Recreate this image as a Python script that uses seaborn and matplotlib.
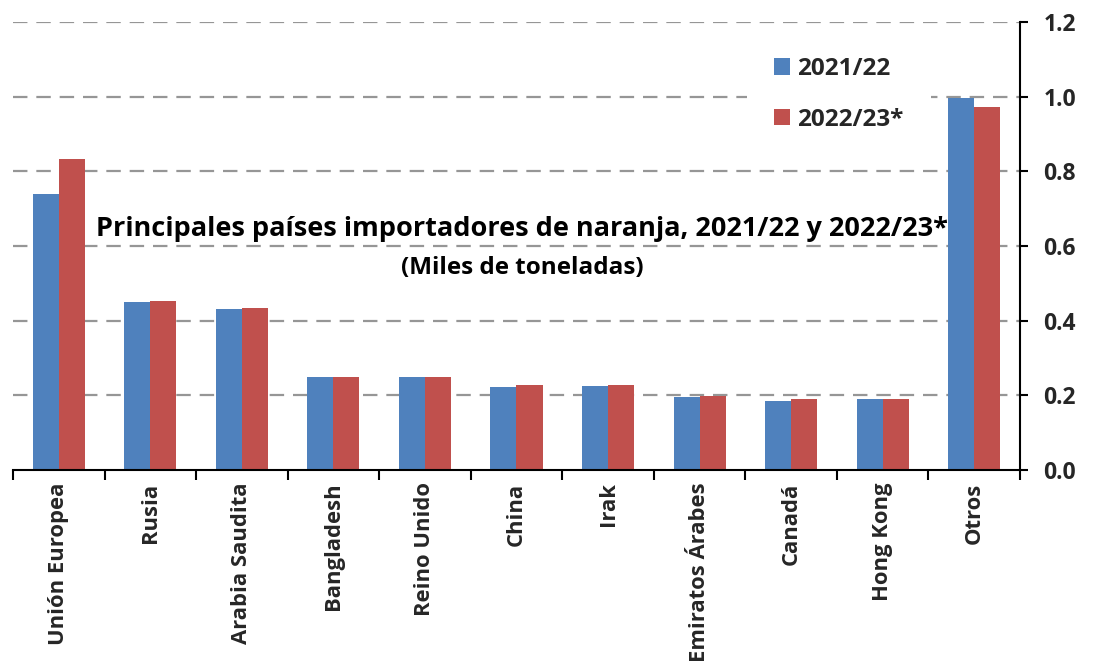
import matplotlib
matplotlib.use("Agg")
import matplotlib.pyplot as plt
import seaborn as sns
import pandas as pd
import numpy as np
from matplotlib.ticker import FixedLocator
from matplotlib.patches import Rectangle

categorias = ["Unión Europea", "Rusia", "Arabia Saudita", "Bangladesh", "Reino Unido",
              "China", "Irak", "Emiratos Árabes", "Canadá", "Hong Kong", "Otros"]
v_2021_22 = [0.739, 0.451, 0.430, 0.248, 0.248, 0.221, 0.224, 0.195, 0.186, 0.190, 0.997]
v_2022_23 = [0.833, 0.453, 0.434, 0.248, 0.248, 0.228, 0.228, 0.199, 0.189, 0.190, 0.972]
series = ["2021/22", "2022/23*"]
colores = ["#4F81BD", "#C0504D"]
yticks = [0.0, 0.2, 0.4, 0.6, 0.8, 1.0, 1.2]

df = pd.DataFrame({
    "pais": categorias * 2,
    "valor": v_2021_22 + v_2022_23,
    "serie": [series[0]] * len(categorias) + [series[1]] * len(categorias),
})

sns.set_theme(style="white")
FONT = ["Open Sans", "DejaVu Sans"]
plt.rcParams["font.family"] = FONT

W, H = 1096, 671
fig = plt.figure(figsize=(W / 100, H / 100), dpi=100)
AX_L, AX_R, AX_T, AX_B = 13, 1020, 22, 470
ax = fig.add_axes([AX_L / W, 1 - AX_B / H, (AX_R - AX_L) / W, (AX_B - AX_T) / H])

def ax_x(px):
    return (px - AX_L) / (AX_R - AX_L)

def ax_y(py):
    return (AX_B - py) / (AX_B - AX_T)

sns.barplot(data=df, x="pais", y="valor", hue="serie", palette=colores,
            order=categorias, hue_order=series, width=0.57, ax=ax,
            saturation=1, edgecolor="none", linewidth=0, legend=True)

ax.set_xlim(-0.5, len(categorias) - 0.5)
ax.set_ylim(0, 1.2)
ax.set_xlabel("")
ax.set_ylabel("")

# gridlines
for v in yticks[1:]:
    ax.axhline(v, color="#969696", lw=1.6, ls=(0, (6.5, 4)), zorder=0)

# spines
for s in ["left", "top"]:
    ax.spines[s].set_visible(False)
ax.spines["bottom"].set_color("black")
ax.spines["bottom"].set_linewidth(1.5)
ax.spines["right"].set_color("black")
ax.spines["right"].set_linewidth(1.5)

# y axis on right
ax.yaxis.tick_right()
ax.set_yticks(yticks)
ax.set_yticklabels([f"{v:.1f}" for v in yticks])
ax.tick_params(axis="y", which="major", direction="out", length=6, width=1.5,
               color="black", right=True, left=False, labelsize=16.5, pad=11)
for lab in ax.get_yticklabels():
    lab.set_fontweight("bold")

# x axis: labels at centers, ticks at boundaries
ax.set_xticks(range(len(categorias)))
ax.set_xticklabels(categorias, rotation=90, fontsize=15.8, fontweight="bold")
ax.tick_params(axis="x", which="major", length=0, pad=9, bottom=True)
ax.xaxis.set_minor_locator(FixedLocator(np.arange(-0.5, len(categorias), 1.0)))
ax.tick_params(axis="x", which="minor", direction="out", length=7, width=1.5,
               color="black", bottom=True)

# title inside
ax.text(0.505, 0.537, "Principales países importadores de naranja, 2021/22 y 2022/23*",
        transform=ax.transAxes, ha="center", va="center", fontsize=19.5,
        fontweight="bold", color="black")
ax.text(0.506, 0.45, "(Miles de toneladas)", transform=ax.transAxes,
        ha="center", va="center", fontsize=17.5, fontweight="bold", color="black")

# legend background (white box interrupting the gridline)
ax.add_patch(Rectangle((ax_x(747), ax_y(150)), ax_x(931) - ax_x(747),
                       ax_y(35) - ax_y(150), transform=ax.transAxes,
                       facecolor="white", edgecolor="none", zorder=1))

leg = ax.legend(loc="upper left", bbox_to_anchor=(ax_x(769), ax_y(52)),
                frameon=False, handlelength=0.66, handleheight=0.66,
                handletextpad=0.3, labelspacing=1.11, borderpad=0.2,
                borderaxespad=0, fontsize=17.5)
for t in leg.get_texts():
    t.set_fontweight("bold")
leg.set_zorder(5)

fig.savefig("out.png", dpi=100)
